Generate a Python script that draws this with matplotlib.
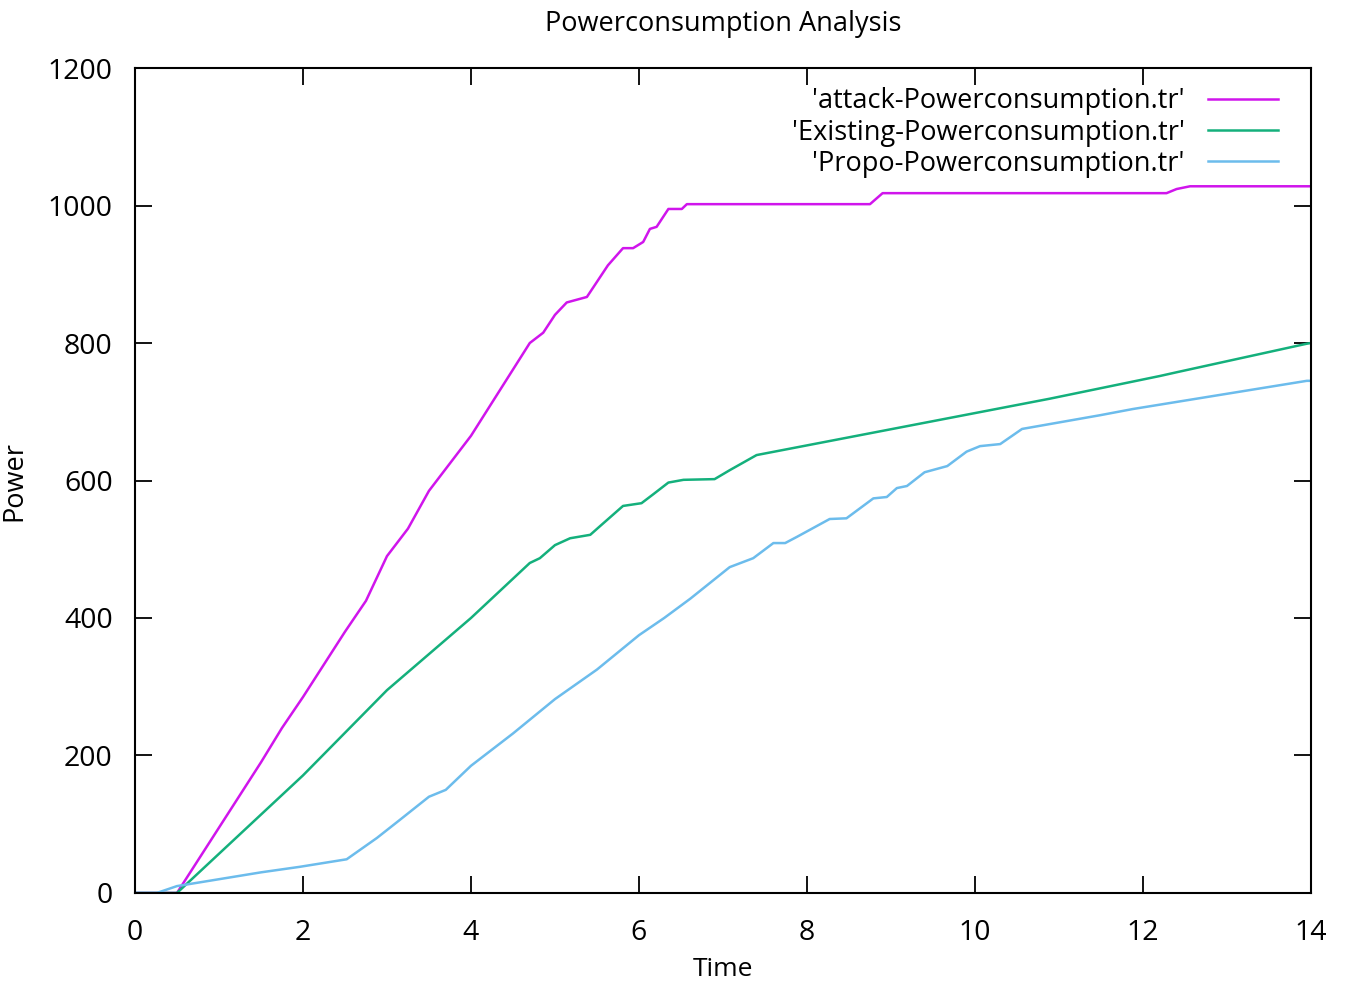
import numpy as np
import matplotlib.pyplot as plt

plt.rcParams['font.family'] = ['Open Sans', 'DejaVu Sans']

# data
attack_t = [0, 0.5, 1.0, 1.5, 1.75, 2.0, 2.5, 2.75, 3.0, 3.25, 3.5, 4.0, 4.42, 4.7, 4.86,
            5.0, 5.14, 5.38, 5.63, 5.81, 5.93, 6.05, 6.13, 6.21, 6.35, 6.51, 6.57, 8.75,
            8.9, 12.28, 12.4, 12.56, 14.0]
attack_p = [0, 0, 95, 190, 240, 285, 380, 425, 490, 530, 585, 665, 746, 800, 815,
            841, 859, 867, 913, 938, 938, 947, 966, 969, 995, 995, 1002, 1002,
            1018, 1018, 1024, 1028, 1028]

exist_t = [0, 0.5, 1.0, 2.0, 3.0, 4.0, 4.7, 4.82, 5.0, 5.18, 5.42, 5.54, 5.81, 6.03, 6.17,
           6.35, 6.53, 6.9, 7.08, 7.4, 10.89, 12.2, 12.42, 13.95, 14.0]
exist_p = [0, 0, 57, 171, 295, 400, 480, 487, 506, 516, 521, 534, 563, 567, 580,
           597, 601, 602, 615, 637, 719, 752, 758, 799, 800]

propo_t = [0, 0.26, 0.5, 1.0, 1.5, 1.96, 2.52, 2.88, 3.15, 3.5, 3.7, 4.0, 4.5, 5.0, 5.5,
           6.0, 6.3, 6.61, 7.08, 7.36, 7.6, 7.74, 7.88, 8.27, 8.47, 8.79, 8.95, 9.07,
           9.19, 9.4, 9.67, 9.9, 10.06, 10.3, 10.56, 11.49, 11.88, 13.95, 14.0]
propo_p = [0, 0, 10, 20, 30, 38, 49, 80, 106, 140, 150, 185, 232, 282, 325,
           375, 400, 428, 474, 487, 509, 509, 518, 544, 545, 574, 576, 589,
           592, 612, 621, 642, 650, 653, 675, 695, 704, 745, 745]

fig = plt.figure(figsize=(13.51, 9.89), dpi=100)
ax = fig.add_axes([0.0999, 0.0971, 0.8705, 0.8341])

ax.plot(attack_t, attack_p, color='#d015ec', lw=1.8, label="'attack-Powerconsumption.tr'")
ax.plot(exist_t, exist_p, color='#14b07c', lw=1.8, label="'Existing-Powerconsumption.tr'")
ax.plot(propo_t, propo_p, color='#6cbcec', lw=1.8, label="'Propo-Powerconsumption.tr'")

ax.set_xlim(0, 14)
ax.set_ylim(0, 1200)
ax.set_xticks(np.arange(0, 15, 2))
ax.set_yticks(np.arange(0, 1201, 200))
ax.tick_params(direction='in', length=12, width=1.3, top=True, right=True,
               labelsize=20.5, colors='black')
ax.tick_params(axis='x', pad=19)
ax.tick_params(axis='y', pad=16)
for s in ax.spines.values():
    s.set_linewidth(1.5)

ax.set_title('Powerconsumption Analysis', fontsize=19.5, pad=27)
ax.set_xlabel('Time', fontsize=19, labelpad=7)
fig.text(0.021, 0.514, 'Power', rotation=90, fontsize=19.5, ha='right', va='center')

ax.legend(loc='upper right', markerfirst=False, frameon=False, fontsize=19.5,
          handlelength=2.6, handletextpad=0.85, labelspacing=0.12,
          bbox_to_anchor=(0.993, 1.006))

plt.savefig('out.png', dpi=100)
